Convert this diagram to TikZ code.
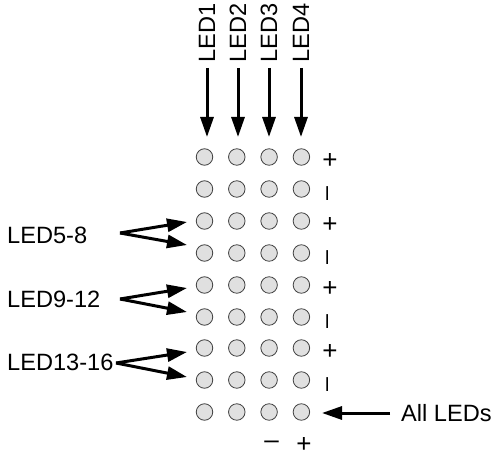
\documentclass[tikz,border=0pt]{standalone}
\usepackage{fontspec}
\setmainfont{Liberation Sans}
\usetikzlibrary{arrows.meta}
\begin{document}
\begin{tikzpicture}[x=1pt,y=-1pt,
  lamp/.style={circle,draw=black!75,fill=black!12,line width=0.8pt,minimum size=16.5pt,inner sep=0pt},
  lab/.style={font=\fontsize{23.6}{28}\selectfont,inner sep=0pt},
  sign/.style={font=\fontsize{26}{30}\selectfont,inner sep=0pt},
  bar/.style={font=\fontsize{25}{29}\selectfont,inner sep=0pt,rotate=90},
  feed/.style={line width=3pt,-{Triangle[length=20pt,width=13pt]}}]
\useasboundingbox (0,0) rectangle (495,457);

% LED matrix: 9 rows of 4 lamps
\foreach \r/\y in {1/157,2/189,3/221,4/253,5/285,6/317,7/348,8/380,9/412}
  \foreach \c/\x in {1/204.5,2/236.8,3/269.1,4/301.4}
    \node[lamp] (c\r\c) at (\x,\y) {};

% polarity marks on the right side
\foreach \r/\y in {1/157,3/221,5/285,7/348}
  \node[sign] (p\r) at (330,\y+4) {+};
\foreach \r/\y in {2/189,4/253,6/317,8/380}
  \node[bar] (m\r) at (330,\y+4.5) {–};
\node[sign] (bm) at (271.5,445) {–};
\node[sign] (bp) at (304,445) {+};

% column inputs
\foreach \i/\x in {1/207,2/238,3/269,4/301}{
  \node[lab,rotate=90,anchor=west] (t\i) at (\x,63) {LED\i};
  \coordinate (e\i) at (\x,137);
  \draw[feed,shorten <=5pt] (t\i.west) -- (e\i);
}

% row group inputs
\node[lab,anchor=west] (g1) at (7,235) {LED5-8};
\node[lab,anchor=west] (g2) at (7,299) {LED9-12};
\node[lab,anchor=west] (g3) at (7,362) {LED13-16};
\coordinate (s1) at (120,233);
\coordinate (s2) at (120,299);
\coordinate (s3) at (116,363);
\coordinate (a1) at (187,222);
\coordinate (b1) at (187,245);
\coordinate (a2) at (187,288);
\coordinate (b2) at (187,312);
\coordinate (a3) at (187,352);
\coordinate (b3) at (187,377);
\foreach \k in {1,2,3}{
  \draw[feed] (s\k) -- (a\k);
  \draw[feed] (s\k) -- (b\k);
}

% common input
\node[lab,anchor=west] (all) at (401,413) {All LEDs};
\coordinate (ea) at (322,413);
\draw[feed] ([xshift=-11pt]all.west) -- (ea);
\end{tikzpicture}
\end{document}
